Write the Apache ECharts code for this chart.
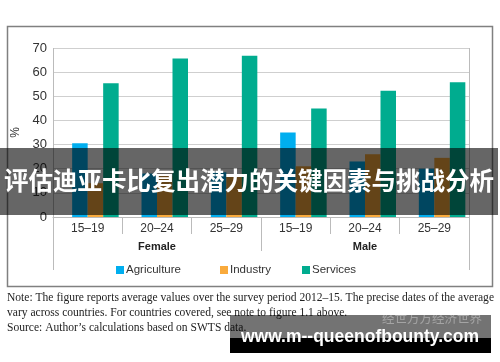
<!DOCTYPE html>
<html>
<head>
<meta charset="utf-8">
<script src="https://cdn.jsdelivr.net/npm/echarts@6/dist/echarts.min.js"></script>
<style>
html,body{margin:0;padding:0;background:#fff;}
#c{width:500px;height:362px;}
</style>
</head>
<body>
<div id="c"></div>
<script>
const categories = ['15–19', '20–24', '25–29', '15–19', '20–24', '25–29'];
const groups = ['Female', 'Male'];
const agriculture = [30.5, 18, 18.5, 35, 23, 20];
const industry = [14, 17, 17, 21, 26, 24.5];
const services = [55.4, 65.6, 66.8, 44.9, 52.3, 55.8];
const yTicks = [0, 10, 20, 30, 40, 50, 60, 70];
const bannerText = '评估迪亚卡比复出潜力的关键因素与挑战分析';
const noteLines = [
  'Note: The figure reports average values over the survey period 2012–15. The precise dates of the average',
  'vary across countries. For countries covered, see note to figure 1.1 above.',
  'Source: Author’s calculations based on SWTS data.'
];
const watermark = 'www.m--queenofbounty.com';
const watermarkFaint = '经世万方经济世界';

const colors = { Agriculture: '#00AEEF', Industry: '#F9AA3C', Services: '#00AC8F' };
const sans = 'Liberation Sans, Arial, sans-serif';
const serif = 'Liberation Serif, Times New Roman, serif';

const chart = echarts.init(document.getElementById('c'), null, { renderer: 'canvas' });

function legend(name, left) {
  return {
    data: [name], left: left, top: 264, padding: 0,
    itemWidth: 8, itemHeight: 8, icon: 'rect',
    textStyle: { fontSize: 11.5, color: '#333', fontFamily: sans, padding: [0, 0, 0, -3] }
  };
}

const notesGraphic = noteLines.map((t, i) => ({
  type: 'text', left: 7, top: 292 + i * 15, z: 50,
  style: { text: t, font: '11.55px ' + serif, fill: '#222' }
}));

chart.setOption({
  animation: false,
  backgroundColor: '#fff',
  color: [colors.Agriculture, colors.Industry, colors.Services],
  grid: { left: 53, right: 31, top: 48, bottom: 145, containLabel: false },
  legend: [legend('Agriculture', 116), legend('Industry', 220), legend('Services', 302)],
  xAxis: [
    {
      type: 'category', data: categories, position: 'bottom',
      axisLine: { show: true, lineStyle: { color: '#bbb', width: 1 } },
      axisTick: { show: true, interval: 0, length: 17, lineStyle: { color: '#bbb' } },
      axisLabel: { interval: 0, margin: 6, fontSize: 12, color: '#333', fontFamily: sans },
      splitLine: { show: false }
    },
    {
      type: 'category', data: groups, position: 'bottom',
      axisLine: { show: false },
      axisTick: { show: true, interval: 0, length: 34, lineStyle: { color: '#bbb' } },
      axisLabel: { interval: 0, margin: 24, fontSize: 11, fontWeight: 'bold', color: '#222', fontFamily: sans },
      splitLine: { show: false }
    }
  ],
  yAxis: {
    type: 'value', min: yTicks[0], max: yTicks[yTicks.length - 1], interval: 10,
    axisLine: { show: false }, axisTick: { show: false },
    axisLabel: { fontSize: 13, color: '#333', margin: 6, fontFamily: sans },
    splitLine: { lineStyle: { color: '#cfcfcf', width: 1 } },
    name: '%', nameLocation: 'middle', nameGap: 28, nameRotate: 90,
    nameTextStyle: { fontSize: 12, color: '#333', fontFamily: sans }
  },
  series: [
    { name: 'spacer', type: 'bar', barWidth: 15.5, barGap: '0%', data: [], silent: true },
    { name: 'Agriculture', type: 'bar', barWidth: 15.5, barGap: '0%', data: agriculture, itemStyle: { color: colors.Agriculture } },
    { name: 'Industry', type: 'bar', barWidth: 15.5, barGap: '0%', data: industry, itemStyle: { color: colors.Industry } },
    { name: 'Services', type: 'bar', barWidth: 15.5, barGap: '0%', data: services, itemStyle: { color: colors.Services } }
  ],
  graphic: [
    { type: 'rect', z: 1, silent: true, shape: { x: 7.5, y: 26.5, width: 485, height: 260 },
      style: { fill: 'none', stroke: '#808080', lineWidth: 1.5 } },
    { type: 'line', z: 1, silent: true, shape: { x1: 53.5, y1: 48, x2: 53.5, y2: 270 }, style: { stroke: '#bbb', lineWidth: 1 } },
    { type: 'line', z: 1, silent: true, shape: { x1: 469.5, y1: 48, x2: 469.5, y2: 270 }, style: { stroke: '#bbb', lineWidth: 1 } },
    ...notesGraphic,
    { type: 'rect', z: 100, silent: true, shape: { x: 0, y: 148, width: 498, height: 67 },
      style: { fill: 'rgba(0,0,0,0.6)' } },
    { type: 'text', z: 101, silent: true, x: 249, y: 181,
      style: { text: bannerText, font: 'bold 24.5px "Noto Sans CJK SC"', fill: '#fff', align: 'center', verticalAlign: 'middle' } },
    { type: 'rect', z: 100, silent: true, shape: { x: 230, y: 315, width: 261, height: 23 },
      style: { fill: 'rgba(0,0,0,0.55)' } },
    { type: 'rect', z: 100, silent: true, shape: { x: 230, y: 338, width: 261, height: 15 },
      style: { fill: '#000' } },
    { type: 'text', z: 101, silent: true, x: 432, y: 318,
      style: { text: watermarkFaint, font: '12.5px "Noto Sans CJK SC"', fill: 'rgba(255,255,255,0.35)', align: 'center', verticalAlign: 'middle' } },
    { type: 'text', z: 102, silent: true, x: 360, y: 337,
      style: { text: watermark, font: 'bold 17.5px ' + sans, fill: '#fff', align: 'center', verticalAlign: 'middle' } }
  ]
});
</script>
</body>
</html>
